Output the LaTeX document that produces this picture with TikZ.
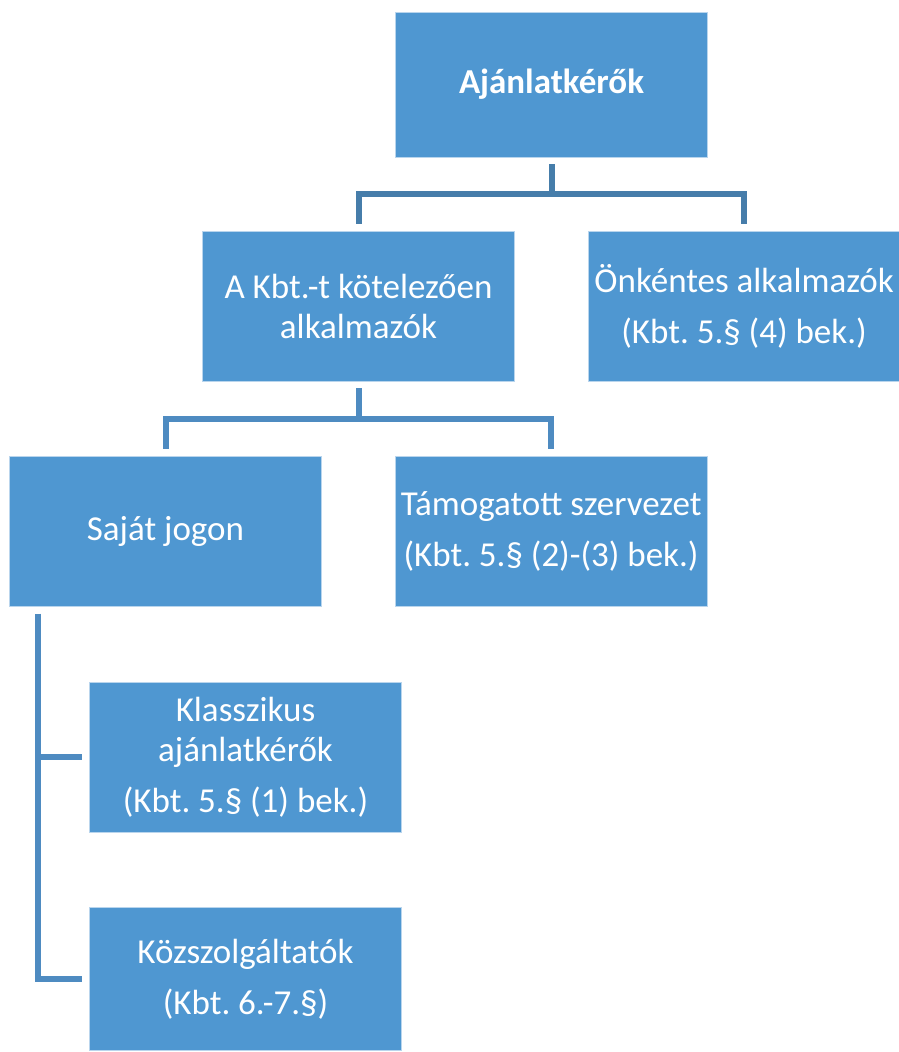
\documentclass[tikz,border=0pt]{standalone}
\usepackage{fontspec}
\setmainfont{Carlito}
\usetikzlibrary{positioning, calc}
\definecolor{boxblue}{HTML}{4F97D1}
\definecolor{linkdark}{HTML}{467DAA}
\definecolor{linklight}{HTML}{4E8BC1}

\begin{document}
\frenchspacing
\begin{tikzpicture}[
    x=1pt, y=-1pt,
    orgbox/.style={
        rectangle,
        fill=boxblue,
        draw=white!60!boxblue,
        line width=0.6pt,
        text=white,
        minimum width=312pt,
        minimum height=150pt,
        inner sep=0pt,
        align=center,
        font=\fontsize{35}{40}\selectfont
    },
    link/.style={
        line width=6pt,
        shorten <=7pt,
        shorten >=7pt
    }
]
    \useasboundingbox (0,0) rectangle (898,1052);

    % TOP ROW
    \node[orgbox, minimum height=145pt, font=\fontsize{35}{40}\selectfont\bfseries] (top_box) at (551.5, 84.5) {Ajánlatkérők};

    % SECOND ROW
    \node[orgbox] (kot_box) at (358.5, 306) {A Kbt.-t kötelezően\\alkalmazók};
    \node[orgbox, right=73pt of kot_box] (onk_box) {Önkéntes alkalmazók\\[11pt](Kbt. 5.§ (4) bek.)};

    % THIRD ROW
    \node[orgbox] (saj_box) at (165.5, 531.5) {Saját jogon};
    \node[orgbox, right=73pt of saj_box] (tam_box) {Támogatott szervezet\\[11pt](Kbt. 5.§ (2)-(3) bek.)};

    % SUB ITEMS
    \node[orgbox] (kla_box) at (245.5, 757) {Klasszikus\\ajánlatkérők\\[11pt](Kbt. 5.§ (1) bek.)};
    \node[orgbox, minimum height=143pt, below=75pt of kla_box] (kozs_box) {Közszolgáltatók\\[11pt](Kbt. 6.-7.§)};

    % Connectors
    \draw[link, linkdark] (top_box.south) -- ++(0,37) -| (kot_box.north);
    \draw[link, linkdark] (top_box.south) -- ++(0,37) -| (onk_box.north);
    \draw[link, linklight] (kot_box.south) -- ++(0,38) -| (saj_box.north);
    \draw[link, linklight] (kot_box.south) -- ++(0,38) -| (tam_box.north);
    \draw[link, linklight] ($(saj_box.south west)+(29,0)$) |- (kla_box.west);
    \draw[link, linklight] ($(saj_box.south west)+(29,0)$) |- (kozs_box.west);
\end{tikzpicture}
\end{document}
